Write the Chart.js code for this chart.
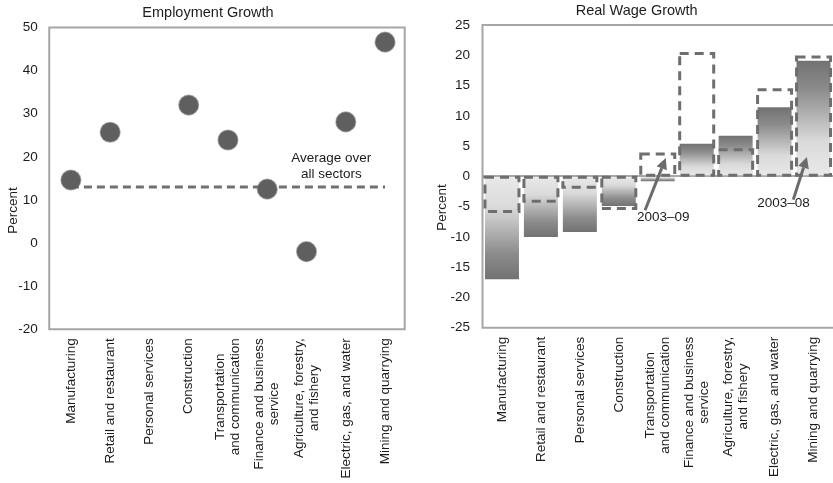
<!DOCTYPE html>
<html><head><meta charset="utf-8">
<script src="https://cdn.jsdelivr.net/npm/chart.js@4.4.1/dist/chart.umd.min.js"></script>
<style>
html,body{margin:0;padding:0;background:#fff;overflow:hidden}
#wrap{position:relative;width:833px;height:483px;background:#fff}
#c1{position:absolute;left:0;top:0}
#c2{position:absolute;left:416px;top:0}
</style></head><body>
<div id="wrap"><canvas id="c1" width="416" height="483"></canvas><canvas id="c2" width="417" height="483"></canvas></div>
<script>
// ---------- data ----------
const categories = [
  ['Manufacturing'],
  ['Retail and restaurant'],
  ['Personal services'],
  ['Construction'],
  ['Transportation', 'and communication'],
  ['Finance and business', 'service'],
  ['Agriculture, forestry,', 'and fishery'],
  ['Electric, gas, and water'],
  ['Mining and quarrying']
];
const employmentGrowth = [14.6, 25.7, null, 32.0, 23.9, 12.5, -2.0, 28.1, 46.6];
const employmentAverage = [13, 13, 13, 13, 13, 13, 13, 13, 13];
const employmentTicks = [-20, -10, 0, 10, 20, 30, 40, 50];

const wageGrowth2003to08 = [-17.0, -10.0, -9.2, -4.9, -0.8, 5.4, 6.7, 11.4, 19.1];
const wageGrowth2003to09 = [-5.8, -4.1, -1.8, -5.3, 3.7, 20.3, 4.4, 14.3, 19.7];
const wageTicks = [-25, -20, -15, -10, -5, 0, 5, 10, 15, 20, 25];

const titles = ['Employment Growth', 'Real Wage Growth'];
const axisTitle = 'Percent';
const averageNote = ['Average over', 'all sectors'];
const periodNotes = ['2003\u201309', '2003\u201308'];

// ---------- styling helpers ----------
const FONT = "'Liberation Sans', Arial, sans-serif";
const TEXT = '#1c1c1c';
const FRAME = '#a6a6a6';
const MARK = '#6b6b6b';

function drawFrame(chart, dx, openRight) {
  const a = chart.chartArea, c = chart.ctx;
  c.save();
  c.strokeStyle = FRAME; c.lineWidth = 2;
  c.beginPath();
  if (openRight) {
    c.moveTo(a.right + 2, a.top); c.lineTo(a.left - dx, a.top);
    c.lineTo(a.left - dx, a.bottom); c.lineTo(a.right + 2, a.bottom);
  } else {
    c.rect(a.left - dx, a.top, a.right - a.left + dx, a.bottom - a.top);
  }
  c.stroke();
  c.restore();
}
function drawCategoryLabels(chart, gap) {
  const c = chart.ctx, xs = chart.scales.x, a = chart.chartArea;
  c.save();
  c.font = '13.5px ' + FONT; c.fillStyle = TEXT;
  c.textAlign = 'center'; c.textBaseline = 'middle';
  categories.forEach((lines, i) => {
    const cx = xs.getPixelForValue(i);
    const maxW = Math.max(...lines.map(l => c.measureText(l).width));
    lines.forEach((line, j) => {
      const x = cx + (j - (lines.length - 1) / 2) * 15;
      c.save();
      c.translate(x, a.bottom + gap + maxW / 2);
      c.rotate(-Math.PI / 2);
      c.fillText(line, 0, 0);
      c.restore();
    });
  });
  c.restore();
}
function drawText(c, txt, x, y, size, rot) {
  c.save();
  c.font = size + 'px ' + FONT; c.fillStyle = TEXT;
  c.textAlign = 'center'; c.textBaseline = 'middle';
  c.translate(x, y); if (rot) c.rotate(rot);
  c.fillText(txt, 0, 0);
  c.restore();
}
function drawArrow(c, x1, y1, x2, y2) {
  const ang = Math.atan2(y2 - y1, x2 - x1), L = 11, W = 5.5;
  const bx = x2 - L * Math.cos(ang), by = y2 - L * Math.sin(ang);
  c.save();
  c.strokeStyle = MARK; c.fillStyle = MARK; c.lineWidth = 3;
  c.beginPath(); c.moveTo(x1, y1); c.lineTo(bx, by); c.stroke();
  c.beginPath();
  c.moveTo(x2, y2);
  c.lineTo(bx + W * Math.sin(ang), by - W * Math.cos(ang));
  c.lineTo(bx - W * Math.sin(ang), by + W * Math.cos(ang));
  c.closePath(); c.fill();
  c.restore();
}
function tickBuilder(arr) { return s => { s.ticks = arr.map(v => ({ value: v })); }; }

// ---------- left chart ----------
const leftPlugin = {
  id: 'leftDecor',
  beforeDatasetsDraw(chart) { drawFrame(chart, 2, false); },
  afterDraw(chart) {
    const c = chart.ctx, xs = chart.scales.x, ys = chart.scales.y;
    drawText(c, titles[0], 208, 13, 14.5);
    drawText(c, axisTitle, 13, 210.5, 13.5, -Math.PI / 2);
    drawCategoryLabels(chart, 9);
    drawText(c, averageNote[0], xs.getPixelForValue(6.63), ys.getPixelForValue(19.7), 13.5);
    drawText(c, averageNote[1], xs.getPixelForValue(6.63), ys.getPixelForValue(16.0), 13.5);
  }
};

new Chart(document.getElementById('c1'), {
  type: 'line',
  data: {
    labels: categories.map(l => l.join(' ')),
    datasets: [
      {
        label: 'Employment growth',
        data: employmentGrowth,
        showLine: false,
        pointRadius: 9.8,
        pointHoverRadius: 9.8,
        pointBackgroundColor: '#5f5f5f',
        pointBorderColor: 'rgba(110,110,110,0.55)',
        pointBorderWidth: 1.5
      },
      {
        label: 'Average over all sectors',
        data: employmentAverage,
        borderColor: '#707070',
        borderWidth: 3,
        borderDash: [8, 5],
        pointRadius: 0,
        fill: false
      }
    ]
  },
  options: {
    responsive: false, animation: false, devicePixelRatio: 1,
    layout: { padding: { left: 0, right: 9.25, top: 27.5, bottom: 153.8 } },
    plugins: { legend: { display: false }, tooltip: { enabled: false }, title: { display: false } },
    scales: {
      x: { display: false, offset: true },
      y: {
        min: -20, max: 50,
        afterFit: s => { s.width = 51.25; },
        afterBuildTicks: tickBuilder(employmentTicks),
        grid: { display: false, drawTicks: false }, border: { display: false },
        ticks: { padding: 13.5, color: TEXT, font: { family: FONT, size: 13.5 } }
      }
    }
  },
  plugins: [leftPlugin]
});

// ---------- right chart ----------
function barGradient(ctx) {
  const chart = ctx.chart;
  if (!chart.chartArea) return '#aaaaaa';
  const ys = chart.scales.y;
  const y0 = ys.getPixelForValue(0), y1 = ys.getPixelForValue(ctx.raw);
  if (Math.abs(y1 - y0) < 1) return '#777777';
  const g = chart.ctx.createLinearGradient(0, y0, 0, y1);
  g.addColorStop(0, '#e9e9e9');
  g.addColorStop(0.3, '#dadada');
  g.addColorStop(0.75, '#8c8c8c');
  g.addColorStop(1, '#727272');
  return g;
}

const rightPlugin = {
  id: 'rightDecor',
  beforeDatasetsDraw(chart) { drawFrame(chart, 0, true); },
  afterDatasetsDraw(chart) {
    const meta = chart.getDatasetMeta(1), c = chart.ctx;
    c.save();
    c.strokeStyle = '#6e6e6e'; c.lineWidth = 3; c.setLineDash([9, 6]);
    meta.data.forEach(el => {
      const p = el.getProps(['x', 'y', 'base', 'width'], true);
      c.strokeRect(p.x - p.width / 2, Math.min(p.y, p.base), p.width, Math.abs(p.base - p.y));
    });
    c.restore();
  },
  afterDraw(chart) {
    const c = chart.ctx, xs = chart.scales.x, ys = chart.scales.y;
    const X = v => xs.getPixelForValue(v), Y = v => ys.getPixelForValue(v);
    drawText(c, titles[1], 220.7, 10.5, 14.5);
    drawText(c, axisTitle, 26.5, 207.5, 13.5, -Math.PI / 2);
    drawCategoryLabels(chart, 9);
    drawArrow(c, X(3.674), Y(-5.6), X(4.206), Y(3.04));
    drawText(c, periodNotes[0], X(4.14), Y(-6.77), 13.5);
    drawArrow(c, X(7.48), Y(-3.85), X(7.83), Y(3.2));
    drawText(c, periodNotes[1], X(7.23), Y(-4.39), 13.5);
  }
};

new Chart(document.getElementById('c2'), {
  type: 'bar',
  data: {
    labels: categories.map(l => l.join(' ')),
    datasets: [
      {
        label: '2003\u201308',
        data: wageGrowth2003to08,
        backgroundColor: barGradient,
        borderWidth: 0,
        grouped: false,
        barPercentage: 0.873,
        categoryPercentage: 1
      },
      {
        label: '2003\u201309',
        data: wageGrowth2003to09,
        backgroundColor: 'rgba(0,0,0,0)',
        borderWidth: 0,
        grouped: false,
        barPercentage: 0.873,
        categoryPercentage: 1
      }
    ]
  },
  options: {
    responsive: false, animation: false, devicePixelRatio: 1,
    layout: { padding: { left: 0, right: 0, top: 25, bottom: 155.3 } },
    plugins: { legend: { display: false }, tooltip: { enabled: false }, title: { display: false } },
    scales: {
      x: { display: false },
      y: {
        min: -25, max: 25,
        afterFit: s => { s.width = 66.5; },
        afterBuildTicks: tickBuilder(wageTicks),
        grid: {
          drawTicks: false,
          lineWidth: 2,
          color: c => (c.tick && c.tick.value === 0) ? '#a8a8a8' : 'rgba(0,0,0,0)'
        },
        border: { display: false },
        ticks: { padding: 12.5, color: TEXT, font: { family: FONT, size: 13.5 } }
      }
    }
  },
  plugins: [rightPlugin]
});
</script>
</body></html>
